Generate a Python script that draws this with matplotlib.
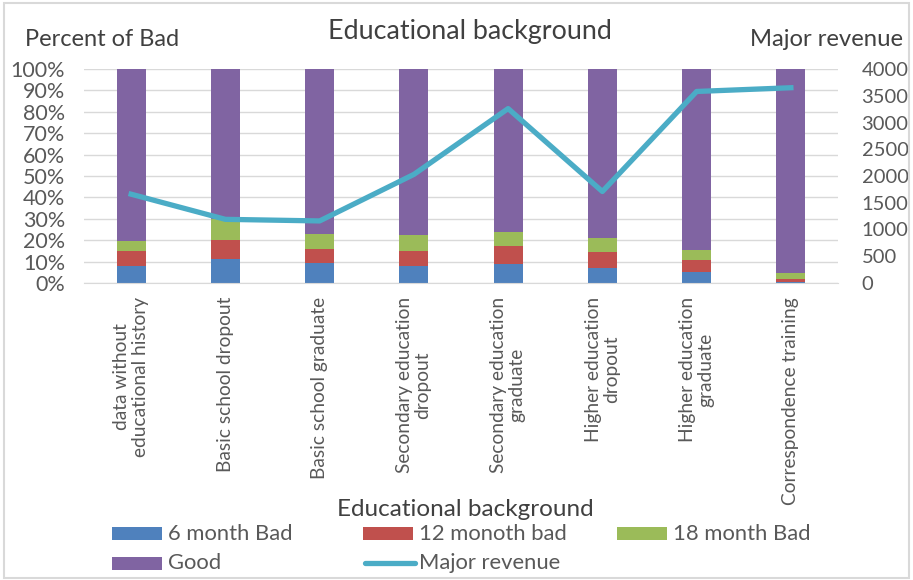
import matplotlib
matplotlib.use("Agg")
import matplotlib.pyplot as plt
import numpy as np
from matplotlib.patches import Rectangle
from matplotlib.lines import Line2D
from matplotlib.ticker import FuncFormatter

categories = ["data without\neducational history", "Basic school dropout", "Basic school graduate",
              "Secondary education\ndropout", "Secondary education\ngraduate", "Higher education\ndropout",
              "Higher education\ngraduate", "Correspondence training"]
bad6 = [8.0, 11.4, 9.5, 8.0, 8.9, 7.2, 5.0, 0.3]
bad12 = [7.0, 8.8, 6.6, 7.0, 8.3, 7.2, 5.8, 1.4]
bad18 = [4.7, 9.5, 7.0, 7.5, 6.6, 6.4, 4.7, 3.1]
good = [100 - a - b - c for a, b, c in zip(bad6, bad12, bad18)]
revenue = [1660, 1190, 1160, 2030, 3260, 1710, 3580, 3650]
legend_labels = ["6 month Bad", "12 monoth bad", "18 month Bad", "Good", "Major revenue"]

C6, C12, C18, CG, CL = "#4F81BD", "#C0504D", "#9BBB59", "#8064A2", "#4BACC6"
TXT = "#595959"
plt.rcParams['font.family'] = ['Lato', 'DejaVu Sans']

W, H = 913, 580
fig = plt.figure(figsize=(W / 100, H / 100), dpi=100)
fig.patches.append(Rectangle((0.004, 0.004), 0.992, 0.99, transform=fig.transFigure,
                             fill=False, edgecolor="#D9D9D9", linewidth=1.5))
ax = fig.add_axes([84 / W, 1 - 283 / H, (838 - 84) / W, (283 - 69) / H])
x = np.arange(len(categories))
w = 0.31
ax.bar(x, bad6, w, color=C6, zorder=2)
ax.bar(x, bad12, w, bottom=bad6, color=C12, zorder=2)
b2 = [a + b for a, b in zip(bad6, bad12)]
ax.bar(x, bad18, w, bottom=b2, color=C18, zorder=2)
b3 = [a + b for a, b in zip(b2, bad18)]
ax.bar(x, good, w, bottom=b3, color=CG, zorder=2)
ax.set_ylim(0, 100)
ax.set_xlim(-0.5, len(categories) - 0.5)
ax.set_yticks(np.arange(0, 101, 10))
ax.yaxis.set_major_formatter(FuncFormatter(lambda v, p: f"{int(v)}%"))
ax.grid(axis="y", color="#D9D9D9", linewidth=1, zorder=0)
for s in ["top", "left", "right"]:
    ax.spines[s].set_visible(False)
ax.spines["bottom"].set_color("#D9D9D9")
ax.tick_params(axis="both", length=0, colors=TXT)
ax.tick_params(axis="y", pad=13.5, labelsize=15.5)
ax.set_xticks(x)
ax.set_xticklabels(categories, rotation=90, ha="center", va="top", multialignment="center",
                   fontsize=13.8, color=TXT, linespacing=1.1)
ax.tick_params(axis="x", pad=10)

ax2 = ax.twinx()
ax2.plot(x, revenue, color=CL, linewidth=3.8, zorder=3)
ax2.set_ylim(0, 4000)
ax2.set_yticks(np.arange(0, 4001, 500))
for s in ax2.spines.values():
    s.set_visible(False)
ax2.tick_params(axis="y", length=0, colors=TXT, labelsize=14.5, pad=17)

fig.text(470 / W, 1 - 32 / H, "Educational background", ha="center", va="center", fontsize=19.4, color="#404040")
fig.text(25 / W, 1 - 40 / H, "Percent of Bad", ha="left", va="center", fontsize=17, color="#404040")
fig.text(903 / W, 1 - 40 / H, "Major revenue", ha="right", va="center", fontsize=17.2, color="#404040")
fig.text(465 / W, 1 - 510 / H, "Educational background", ha="center", va="center", fontsize=17.5, color="#404040")

# legend (row-wise, Excel style)
hx = [112, 363, 617, 112, 363]
hy = [533.5, 533.5, 533.5, 563, 563]
colors = [C6, C12, C18, CG, CL]
for i, (lab, c) in enumerate(zip(legend_labels, colors)):
    x0, yc = hx[i], hy[i]
    if i < 4:
        fig.add_artist(Rectangle((x0 / W, 1 - (yc + 6.5) / H), 50 / W, 13 / H, transform=fig.transFigure,
                                 facecolor=c, edgecolor="none"))
    else:
        fig.add_artist(Line2D([(x0 + 2) / W, (x0 + 52) / W], [1 - yc / H, 1 - yc / H],
                              transform=fig.transFigure, color=c, linewidth=3.8, solid_capstyle="round"))
    fig.text((x0 + 56) / W, 1 - yc / H, lab, ha="left", va="center", fontsize=15.8, color=TXT)
fig.savefig("out.png", dpi=100)
